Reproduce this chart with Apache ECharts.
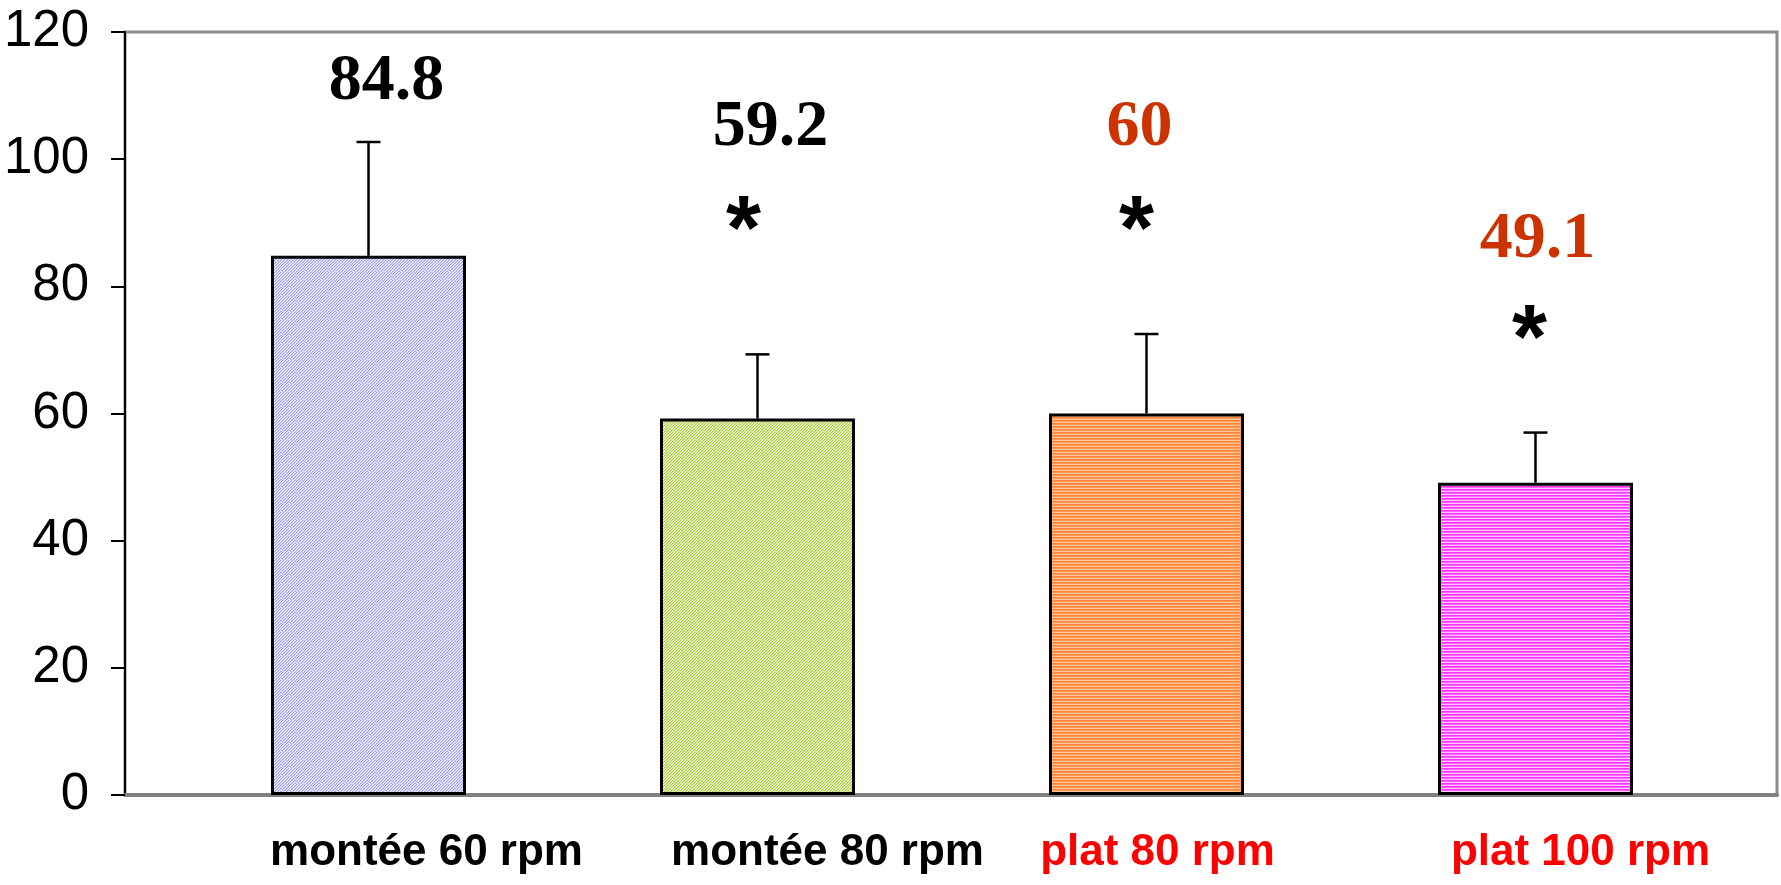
<!DOCTYPE html>
<html><head><meta charset="utf-8">
<script src="https://cdn.jsdelivr.net/npm/echarts@6/dist/echarts.min.js"></script>
<style>html,body{margin:0;padding:0;background:#fff}#c{width:1781px;height:885px}</style>
</head><body><div id="c"></div>
<script>
// ---- data ----
const categories = ['montée 60 rpm', 'montée 80 rpm', 'plat 80 rpm', 'plat 100 rpm'];
const means = [84.8, 59.2, 60, 49.1];
const sds = [17.9, 10.1, 12.5, 7.9];
const valueLabels = ['84.8', '59.2', '60', '49.1'];
const valueLabelHeights = [112.1, 104.9, 104.9, 87.3];
const significance = ['', '*', '*', '*'];
const significanceHeights = [null, 88.2, 88.2, 71.1];
const yMin = 0, yMax = 120, yStep = 20;

// ---- styles ----
const categoryColors = ['#000000', '#000000', '#FF0000', '#FF0000'];
const categoryShift = [58, 70, 11, 45];
const valueLabelColors = ['#000000', '#000000', '#CC3300', '#CC3300'];
const valueLabelShift = [18, 13, -7, 2];
const starShift = [0, -14, -10, -6];

function pattern(fn, w, h) {
  const c = document.createElement('canvas');
  c.width = w; c.height = h;
  const ctx = c.getContext('2d');
  for (let y = 0; y < h; y++) for (let x = 0; x < w; x++) {
    ctx.fillStyle = fn(x, y); ctx.fillRect(x, y, 1, 1);
  }
  return { image: c, repeat: 'repeat' };
}
const fills = [
  pattern((x, y) => ['#9C9CFF', '#C8C8FF', '#FFFFFF'][(x + y) % 3], 3, 3),
  pattern((x, y) => ['#A0CC30', '#CCE680', '#FFFFFF'][(x + y) % 3], 3, 3),
  pattern((x, y) => ['#FF8438', '#FF9A58', '#FFC69C'][y % 3], 1, 3),
  pattern((x, y) => ['#FF33FF', '#FF66FF', '#FFC8FF'][y % 3], 1, 3)
];

const rich = {};
categories.forEach((c, i) => {
  const s = categoryShift[i];
  rich['c' + i] = { color: categoryColors[i], fontFamily: 'Liberation Sans, Arial, sans-serif',
    fontWeight: 'bold', fontSize: 44,
    padding: s >= 0 ? [0, 0, 0, 2 * s] : [0, -2 * s, 0, 0] };
});

const chart = echarts.init(document.getElementById('c'), null, { renderer: 'canvas' });
chart.setOption({
  animation: false,
  backgroundColor: '#ffffff',
  grid: [
    { left: 125, right: 4, top: 32, bottom: 90, show: true, borderColor: '#8C8C8C', borderWidth: 3,
      outerBoundsMode: 'none', containLabel: false },
    { left: 174, right: 51, top: 32, bottom: 90, outerBoundsMode: 'none', containLabel: false }
  ],
  xAxis: [
    { gridIndex: 0, type: 'value', min: 0, max: 1, axisLine: { show: true, lineStyle: { color: '#808080', width: 4 } },
      axisTick: { show: false }, axisLabel: { show: false }, splitLine: { show: false } },
    { gridIndex: 1, type: 'category', data: categories,
      axisLine: { show: false }, axisTick: { show: false },
      axisLabel: { interval: 0, margin: 36, rich: rich,
        formatter: (v, i) => '{c' + i + '|' + v + '}' } }
  ],
  yAxis: [
    { gridIndex: 0, type: 'value', min: yMin, max: yMax, interval: yStep,
      axisLine: { show: true, lineStyle: { color: '#000', width: 2 } },
      axisTick: { show: true, length: 14, lineStyle: { color: '#000', width: 2 } },
      axisLabel: { fontSize: 51, color: '#000', margin: 36, fontFamily: 'Liberation Sans, Arial, sans-serif' },
      splitLine: { show: false } },
    { gridIndex: 1, type: 'value', min: yMin, max: yMax, show: false }
  ],
  series: [
    { type: 'bar', xAxisIndex: 1, yAxisIndex: 1, barWidth: 195, z: 2,
      itemStyle: { borderColor: '#000', borderWidth: 3 },
      data: means.map((v, i) => ({ value: v, itemStyle: { color: fills[i] } })) },
    { type: 'custom', xAxisIndex: 1, yAxisIndex: 1, z: 3,
      data: means.map((m, i) => [i, m, sds[i]]),
      renderItem: function (params, api) {
        const i = api.value(0), m = api.value(1), s = api.value(2);
        const b = api.coord([i, m]), t = api.coord([i, m + s]);
        const cap = 12;
        return { type: 'group', children: [
          { type: 'line', shape: { x1: t[0], y1: b[1], x2: t[0], y2: t[1] }, style: { stroke: '#000', lineWidth: 2.5 } },
          { type: 'line', shape: { x1: t[0] - cap, y1: t[1], x2: t[0] + cap, y2: t[1] }, style: { stroke: '#000', lineWidth: 2.5 } }
        ] };
      } },
    { type: 'scatter', xAxisIndex: 1, yAxisIndex: 1, symbolSize: 1, z: 4,
      itemStyle: { color: 'rgba(0,0,0,0)', opacity: 1 },
      data: valueLabelHeights.map((h, i) => ({ value: [i, h],
        label: { color: valueLabelColors[i], formatter: valueLabels[i], offset: [valueLabelShift[i], 0] } })),
      label: { show: true, position: 'inside', fontFamily: 'Liberation Serif, Times New Roman, serif',
        fontWeight: 'bold', fontSize: 66, opacity: 1 } },
    { type: 'scatter', xAxisIndex: 1, yAxisIndex: 1, symbolSize: 1, z: 4,
      itemStyle: { color: 'rgba(0,0,0,0)', opacity: 1 },
      data: significanceHeights.map((h, i) => ({ value: [i, h],
        label: { formatter: significance[i], offset: [starShift[i], 0] } })),
      label: { show: true, position: 'inside', fontFamily: 'Liberation Sans, Arial, sans-serif',
        fontWeight: 'bold', fontSize: 90, color: '#000', opacity: 1 } }
  ]
});
</script>
</body></html>
